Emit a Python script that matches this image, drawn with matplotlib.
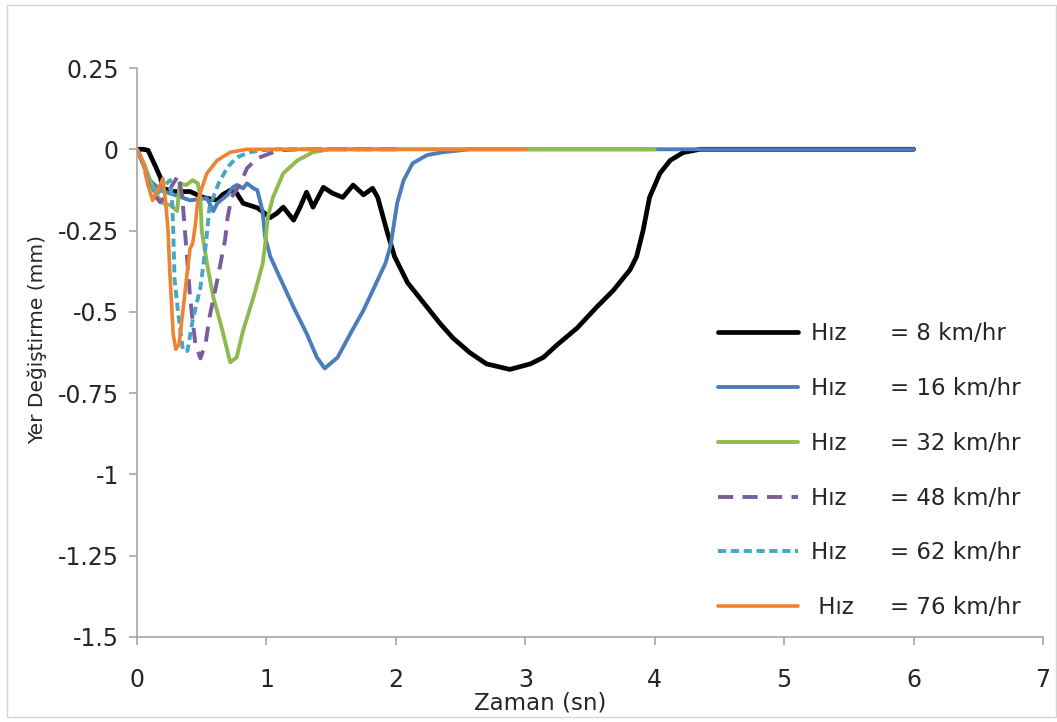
import matplotlib
matplotlib.use("Agg")
import matplotlib.pyplot as plt
from matplotlib.patches import Rectangle

# ---------------- data ----------------
t_8 = [0, 0.046, 0.085, 0.14, 0.18, 0.20, 0.28, 0.41, 0.51, 0.62, 0.66, 0.72, 0.77, 0.82,
       0.93, 1.03, 1.08, 1.13, 1.21, 1.26, 1.31, 1.36, 1.44, 1.51, 1.59, 1.67, 1.75, 1.82,
       1.86, 1.93, 1.99, 2.09, 2.19, 2.26, 2.34, 2.44, 2.57, 2.70, 2.88, 3.04, 3.14, 3.25,
       3.40, 3.55, 3.68, 3.81, 3.86, 3.91, 3.96, 4.04, 4.12, 4.22, 4.35, 6.0]
d_8 = [0, 0, -0.003, -0.05, -0.086, -0.12, -0.13, -0.13, -0.148, -0.157, -0.14, -0.126, -0.135,
       -0.166, -0.18, -0.21, -0.197, -0.178, -0.218, -0.178, -0.132, -0.178, -0.117, -0.135,
       -0.148, -0.11, -0.14, -0.12, -0.148, -0.25, -0.33, -0.41, -0.46, -0.495, -0.535, -0.58,
       -0.625, -0.66, -0.677, -0.66, -0.64, -0.60, -0.55, -0.486, -0.434, -0.37, -0.33, -0.25,
       -0.148, -0.074, -0.034, -0.01, 0, 0]

t_16 = [0, 0.04, 0.10, 0.18, 0.29, 0.41, 0.54, 0.59, 0.62, 0.70, 0.74, 0.77, 0.82, 0.85, 0.90,
        0.93, 0.97, 0.99, 1.03, 1.11, 1.21, 1.31, 1.39, 1.45, 1.55, 1.65, 1.75, 1.85, 1.92,
        1.96, 2.01, 2.06, 2.13, 2.24, 2.36, 2.57, 6.0]
d_16 = [0, -0.034, -0.095, -0.126, -0.14, -0.157, -0.15, -0.19, -0.166, -0.14, -0.117, -0.11,
        -0.12, -0.105, -0.12, -0.126, -0.19, -0.27, -0.33, -0.40, -0.486, -0.566, -0.64,
        -0.674, -0.64, -0.566, -0.495, -0.41, -0.35, -0.295, -0.166, -0.095, -0.043, -0.018,
        -0.009, 0, 0]

t_32 = [0, 0.06, 0.10, 0.15, 0.20, 0.26, 0.31, 0.33, 0.38, 0.43, 0.47, 0.49, 0.50, 0.54, 0.59,
        0.66, 0.72, 0.77, 0.82, 0.90, 0.97, 0.99, 1.01, 1.05, 1.13, 1.24, 1.36, 1.49, 4.0]
d_32 = [0, -0.05, -0.095, -0.14, -0.166, -0.172, -0.19, -0.105, -0.11, -0.095, -0.105, -0.148,
        -0.25, -0.35, -0.455, -0.557, -0.655, -0.64, -0.557, -0.455, -0.354, -0.295, -0.21,
        -0.148, -0.074, -0.034, -0.009, 0, 0]

t_48 = [0, 0.05, 0.10, 0.18, 0.23, 0.28, 0.32, 0.35, 0.37, 0.39, 0.41, 0.45, 0.49, 0.53, 0.56,
        0.62, 0.68, 0.70, 0.73, 0.80, 0.85, 0.93, 1.03, 1.11, 1.26, 2.0]
d_48 = [0, -0.05, -0.126, -0.163, -0.14, -0.105, -0.08, -0.148, -0.25, -0.35, -0.455, -0.597,
        -0.643, -0.597, -0.517, -0.403, -0.28, -0.21, -0.148, -0.105, -0.058, -0.028, -0.012,
        -0.003, 0, 0]

t_62 = [0, 0.05, 0.10, 0.15, 0.20, 0.255, 0.27, 0.28, 0.29, 0.32, 0.355, 0.39, 0.43, 0.49,
        0.53, 0.56, 0.63, 0.70, 0.77, 0.87, 0.97, 1.1, 2.0]
d_62 = [0, -0.05, -0.11, -0.14, -0.117, -0.095, -0.148, -0.25, -0.40, -0.51, -0.62, -0.62,
        -0.526, -0.425, -0.30, -0.178, -0.105, -0.055, -0.025, -0.009, -0.003, 0, 0]

t_76 = [0, 0.02, 0.05, 0.085, 0.12, 0.16, 0.20, 0.22, 0.24, 0.255, 0.28, 0.30, 0.325, 0.355,
        0.385, 0.41, 0.43, 0.45, 0.47, 0.50, 0.54, 0.62, 0.72, 0.85, 3.0]
d_76 = [0, -0.018, -0.043, -0.11, -0.157, -0.126, -0.09, -0.157, -0.25, -0.39, -0.57, -0.615,
        -0.60, -0.495, -0.39, -0.305, -0.29, -0.235, -0.157, -0.12, -0.074, -0.034, -0.009, 0, 0]

labels = ["Hız      = 8 km/hr", "Hız      = 16 km/hr", "Hız      = 32 km/hr",
          "Hız      = 48 km/hr", "Hız      = 62 km/hr", " Hız     = 76 km/hr"]
x_ticks = [0, 1, 2, 3, 4, 5, 6, 7]
y_ticks = [0.25, 0, -0.25, -0.5, -0.75, -1, -1.25, -1.5]
y_tick_labels = ["0.25", "0", "-0.25", "-0.5", "-0.75", "-1", "-1.25", "-1.5"]
x_label = "Zaman (sn)"
y_label = "Yer Değiştirme (mm)"

# ---------------- figure ----------------
W, H = 1057, 722
plt.rcParams['font.family'] = ['DejaVu Sans']
fig = plt.figure(figsize=(W / 100, H / 100), dpi=100)
fig.patches.append(Rectangle((7 / W, 1 - 717 / H), (1056 - 7) / W, (717 - 5) / H,
                             transform=fig.transFigure, fill=False,
                             edgecolor="#d6d6d6", linewidth=1.0))

ax = fig.add_axes([137 / W, 1 - 637 / H, (1043 - 137) / W, (637 - 68) / H])

ax.plot(t_8, d_8, color="#000000", lw=3.4, solid_capstyle="round", solid_joinstyle="round",
        label=labels[0])
ax.plot(t_16, d_16, color="#4a7dba", lw=2.8, solid_capstyle="round", solid_joinstyle="round",
        label=labels[1])
ax.plot(t_32, d_32, color="#8fba4f", lw=2.8, solid_capstyle="round", solid_joinstyle="round",
        label=labels[2])
ax.plot(t_48, d_48, color="#7b5d9e", lw=2.8, dashes=(3.9, 2.4), label=labels[3])
ax.plot(t_62, d_62, color="#45a8c3", lw=2.8, dashes=(2.1, 1.2), label=labels[4])
ax.plot(t_76, d_76, color="#ec8432", lw=2.6, solid_capstyle="round", solid_joinstyle="round",
        label=labels[5])

ax.set_xlim(0, 7)
ax.set_ylim(-1.5, 0.25)
ax.set_xticks(x_ticks)
ax.set_yticks(y_ticks)
ax.set_yticklabels(y_tick_labels)

for s in ["top", "right"]:
    ax.spines[s].set_visible(False)
for s in ["left", "bottom"]:
    ax.spines[s].set_color("#a6a6a6")
    ax.spines[s].set_linewidth(1.2)

ax.tick_params(axis="both", direction="out", length=6, width=1.2, color="#a6a6a6",
               labelsize=17, labelcolor="#262626")
ax.tick_params(axis="x", pad=16)
ax.tick_params(axis="y", pad=7)

ax.set_xlabel(x_label, fontsize=16.5, color="#262626")
ax.xaxis.set_label_coords((540 - 137) / 906, (637 - 703) / 569)
ax.xaxis.label.set_verticalalignment("center")
ax.set_ylabel(y_label, fontsize=14.5, color="#262626")
ax.yaxis.set_label_coords((37 - 137) / 906, (637 - 340) / 569)
ax.yaxis.label.set_verticalalignment("center")

leg = ax.legend(loc="upper left", bbox_to_anchor=(718 / W, 1 - 322 / H),
                bbox_transform=fig.transFigure, frameon=False, fontsize=16.5,
                handlelength=3.5, handletextpad=0.55, labelspacing=1.39,
                borderpad=0, borderaxespad=0)
for txt in leg.get_texts():
    txt.set_color("#262626")

fig.savefig("out.png", dpi=100)
